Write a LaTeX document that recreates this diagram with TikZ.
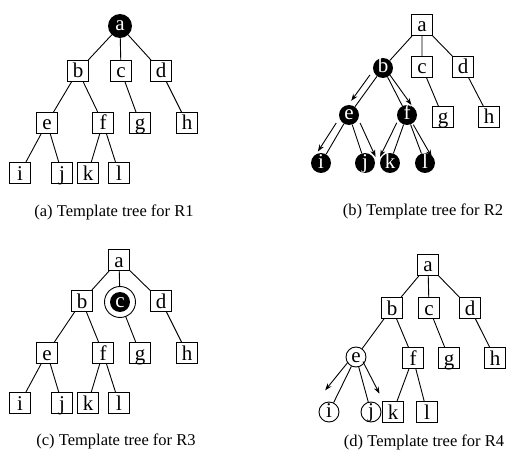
\documentclass[tikz,border=0pt]{standalone}
\usepackage{fontspec}
\setmainfont{Liberation Serif}
\usetikzlibrary{arrows.meta,calc}

\tikzset{
  box/.style={draw, line width=0.9pt, minimum width=21pt, inner sep=3.5pt,
    text height=14pt, text depth=0pt, font=\fontsize{21}{21}\selectfont},
  blk/.style={circle, fill=black, text=white, minimum size=20pt, inner sep=0pt,
    text height=11pt, text depth=1pt, font=\fontsize{21}{21}\selectfont},
  wht/.style={blk, fill=none, draw, text=black, line width=0.9pt},
  edge/.style={line width=0.9pt},
  flow/.style={line width=0.9pt, -{Stealth[length=7pt,width=5pt]}},
  lbl/.style={font=\fontsize{16.5}{18}\selectfont}
}

\begin{document}
\begin{tikzpicture}[x=1pt,y=1pt,yscale=-1,xscale=1]
\path[use as bounding box] (0,0) rectangle (507,452);

% Tree (a)
\node[blk, minimum size=24pt] (a1) at (120,26) {a};
\node[box] (b1) at (78,71) {b};
\node[box] (c1) at (121,71) {c};
\node[box] (d1) at (161,71) {d};
\node[box] (e1) at (47,123) {e};
\node[box] (f1) at (103,123) {f};
\node[box] (g1) at (140,123) {g};
\node[box] (h1) at (187,123) {h};
\node[box] (i1) at (20,173) {i};
\node[box] (j1) at (62,173) {j};
\node[box] (k1) at (88,173) {k};
\node[box] (l1) at (119,173) {l};
\draw[edge] (a1) -- (b1) (a1) -- (c1) (a1) -- (d1) (b1) -- (e1) (b1) -- (f1)
  (c1) -- (g1) (d1) -- (h1) (e1) -- (i1) (e1) -- (j1) (f1) -- (k1) (f1) -- (l1);
% Text Node
\node[lbl] (capa) at (114,212) {(a) Template tree for R1};

% Tree (b)
\node[box] (a2) at (422,25) {a};
\node[blk] (b2) at (383,68) {b};
\node[box] (c2) at (422,67) {c};
\node[box] (d2) at (463,67) {d};
\node[blk] (e2) at (349,115) {e};
\node[blk] (f2) at (407,115) {f};
\node[box] (g2) at (443,117) {g};
\node[box] (h2) at (489,117) {h};
\node[blk] (i2) at (321,163) {i};
\node[blk] (j2) at (365,163) {j};
\node[blk] (k2) at (390,163) {k};
\node[blk] (l2) at (425,163) {l};
\draw[edge] (a2) -- (b2) (a2) -- (c2) (a2) -- (d2) (b2) -- (e2) (b2) -- (f2)
  (c2) -- (g2) (d2) -- (h2) (e2) -- (i2) (e2) -- (j2) (f2) -- (k2) (f2) -- (l2);
% arrows beside the edges
\draw[flow] ($(b2)!0.23!(e2)!6.5pt!90:(e2)$) -- ($(b2)!0.78!(e2)!6.5pt!-90:(b2)$);
\draw[flow] ($(b2)!0.18!(f2)!3pt!-90:(f2)$) -- ($(b2)!0.87!(f2)!8.5pt!90:(b2)$);
\draw[flow] ($(e2)!0.24!(i2)!7pt!90:(i2)$) -- ($(e2)!0.85!(i2)!8.5pt!-90:(e2)$);
\draw[flow] ($(e2)!0.22!(j2)!8pt!-90:(j2)$) -- ($(e2)!0.95!(j2)!12pt!90:(e2)$);
\draw[flow] ($(f2)!0.21!(k2)!7pt!90:(k2)$) -- ($(f2)!0.95!(k2)!11.5pt!-90:(f2)$);
\draw[flow] ($(f2)!0.22!(l2)!2.5pt!-90:(l2)$) -- ($(f2)!0.93!(l2)!8.5pt!90:(f2)$);
% Text Node
\node[lbl] (capb) at (423,211) {(b) Template tree for R2};

% Tree (c)
\node[box] (a3) at (119,260) {a};
\node[box] (b3) at (82,301) {b};
\node[circle, draw, line width=0.9pt, minimum size=31pt, inner sep=0pt] (c3) at (120,302) {};
\node[blk] (c3in) at (c3) {c};
\node[box] (d3) at (161,301) {d};
\node[box] (e3) at (47,353) {e};
\node[box] (f3) at (103,353) {f};
\node[box] (g3) at (140,353) {g};
\node[box] (h3) at (187,353) {h};
\node[box] (i3) at (20,403) {i};
\node[box] (j3) at (62,403) {j};
\node[box] (k3) at (88,403) {k};
\node[box] (l3) at (119,403) {l};
\draw[edge] (a3) -- (b3) (a3) -- (c3) (a3) -- (d3) (b3) -- (e3) (b3) -- (f3)
  (c3) -- (g3) (d3) -- (h3) (e3) -- (i3) (e3) -- (j3) (f3) -- (k3) (f3) -- (l3);
% Text Node
\node[lbl] (capc) at (116,441) {(c) Template tree for R3};

% Tree (d)
\node[box] (a4) at (428,265) {a};
\node[box] (b4) at (392,308) {b};
\node[box] (c4) at (429,308) {c};
\node[box] (d4) at (470,308) {d};
\node[wht] (e4) at (356,357) {e};
\node[box] (f4) at (413,358) {f};
\node[box] (g4) at (449,358) {g};
\node[box] (h4) at (495,358) {h};
\node[wht] (i4) at (329,412) {i};
\node[wht] (j4) at (371,412) {j};
\node[box] (k4) at (393,412) {k};
\node[box] (l4) at (427,412) {l};
\draw[edge] (a4) -- (b4) (a4) -- (c4) (a4) -- (d4) (b4) -- (e4) (b4) -- (f4)
  (c4) -- (g4) (d4) -- (h4) (e4) -- (i4) (e4) -- (j4) (f4) -- (k4) (f4) -- (l4);
% arrows beside the edges
\draw[flow] ($(e4)!0.14!(i4)!5pt!90:(i4)$) -- ($(e4)!0.71!(i4)!13pt!-90:(e4)$);
\draw[flow] ($(e4)!0.11!(j4)!5.5pt!-90:(j4)$) -- ($(e4)!0.73!(j4)!13pt!90:(e4)$);
% Text Node
\node[lbl] (capd) at (424,442) {(d) Template tree for R4};

\end{tikzpicture}
\end{document}
